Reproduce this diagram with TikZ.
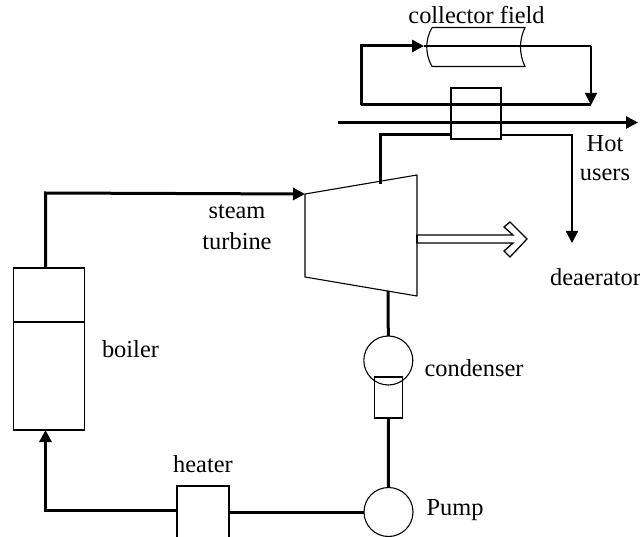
\documentclass[tikz,border=0pt]{standalone}
\usepackage{fontspec}
\setmainfont{Liberation Serif}
\usetikzlibrary{arrows.meta}
\tikzset{
  equip/.style={draw=black,line width=1.1pt,fill=none,inner sep=0pt,outer sep=0pt},
  boxshape/.style={equip,rectangle,minimum width=#1},
  circ/.style={equip,circle,minimum size=49pt},
  pipe/.style={draw=black,line width=3pt,line cap=butt,line join=miter},
  finepipe/.style={draw=black,line width=1.5pt},
  flow/.style={-{Triangle[length=12pt,width=12pt]}},
  lbl/.style={font=\fontsize{24.4}{28}\selectfont,inner sep=0pt,text=black}
}
\begin{document}
\begin{tikzpicture}[x=1pt,y=-1pt]
\useasboundingbox (0,0) rectangle (640,537);
\clip (0,0) rectangle (640,537);
% equipment
\node[boxshape=71pt,minimum height=54pt] (boilerTop) at (49,295) {};
\node[boxshape=71pt,minimum height=108pt] (boilerBot) at (49,376) {};
\node[equip,minimum width=50pt,minimum height=51pt] (hx) at (476,113.5) {};
\node[equip,minimum width=52pt,minimum height=62pt] (heater) at (203,517) {};
\node[circ] (condenser) at (388.3,360.5) {};
\node[circ] (pump) at (388.5,512) {};
\node[equip,minimum width=28pt,minimum height=41pt] (cbox) at (388.3,397.5) {};
\draw[equip,line join=round] (305,194) coordinate (tIn) -- (417,175) -- (417,296) -- (305,277) -- cycle;
% collector
\coordinate (cTL) at (432,27.5);
\coordinate (cBL) at (432,66.5);
\coordinate (cTR) at (525,27.5);
\coordinate (cBR) at (525,66.5);
\draw[equip] (cTL) -- (cTR) .. controls (519,40) and (519,54) .. (cBR) -- (cBL) .. controls (425,54) and (425,40) .. (cTL);
% junction points
\coordinate (a1) at (361,46);
\coordinate (a2) at (361,105);
\coordinate (a3) at (591,105);
\coordinate (a4) at (591,46);
\coordinate (a5) at (424,46);
\coordinate (m1) at (338,122.5);
\coordinate (m2) at (638,122.5);
\coordinate (t1) at (380.5,184);
\coordinate (t2) at (380.5,135);
\coordinate (t3) at (572,135);
\coordinate (t4) at (572,243);
\coordinate (b1) at (45.5,268);
\coordinate (b2) at (45.5,193);
\coordinate (c1) at (388,291);
\coordinate (h1) at (45.5,510);
\coordinate (h2) at (45.5,430);
% connectors
\draw[finepipe] (a5) -- (a4);
\draw[pipe,flow,line width=1.5pt] (a4) -- (a3);
\draw[pipe,flow] (a2) -- (a1) -- (a5);
\draw[pipe] (a2) -- (a3);
\draw[pipe,flow,line width=2.6pt] (m1) -- (m2);
\draw[pipe] (t1) -- (t2) -- (hx.west |- t2);
\draw[pipe,flow,line width=2.2pt] (hx.east |- t3) -- (t3) -- (t4);
\draw[pipe,flow] (b1) -- (b2) -- (tIn);
\draw[pipe] (c1) -- (condenser.north);
\draw[pipe] (cbox.south) -- (pump.north);
\draw[pipe] (pump.west) -- (heater.east |- pump.west);
\draw[pipe,flow] (heater.west |- h1) -- (h1) -- (h2);
% output shaft
\draw[draw=black,line width=1.3pt,fill=white,line join=miter] (417,235) -- (513,235) -- (504,227) -- (510,222) -- (527,239) -- (510,257) -- (504,251) -- (513,243) -- (417,243) -- cycle;
\draw[draw=black,line width=2pt] (417,235) -- (417,243);
% labels
\node[lbl] (lCollector) at (476.5,15) {collector field};
\node[lbl] (lHot) at (605,144) {Hot};
\node[lbl] (lUsers) at (605,175) {users};
\node[lbl] (lSteam) at (237,212) {steam};
\node[lbl] (lTurbine) at (237,241) {turbine};
\node[lbl] (lBoiler) at (130.5,349) {boiler};
\node[lbl] (lCondenser) at (474,368) {condenser};
\node[lbl] (lHeater) at (203,464) {heater};
\node[lbl] (lPump) at (455,510) {Pump};
\node[lbl,anchor=west] (lDeaerator) at (550,277) {deaerator};
\end{tikzpicture}
\end{document}
